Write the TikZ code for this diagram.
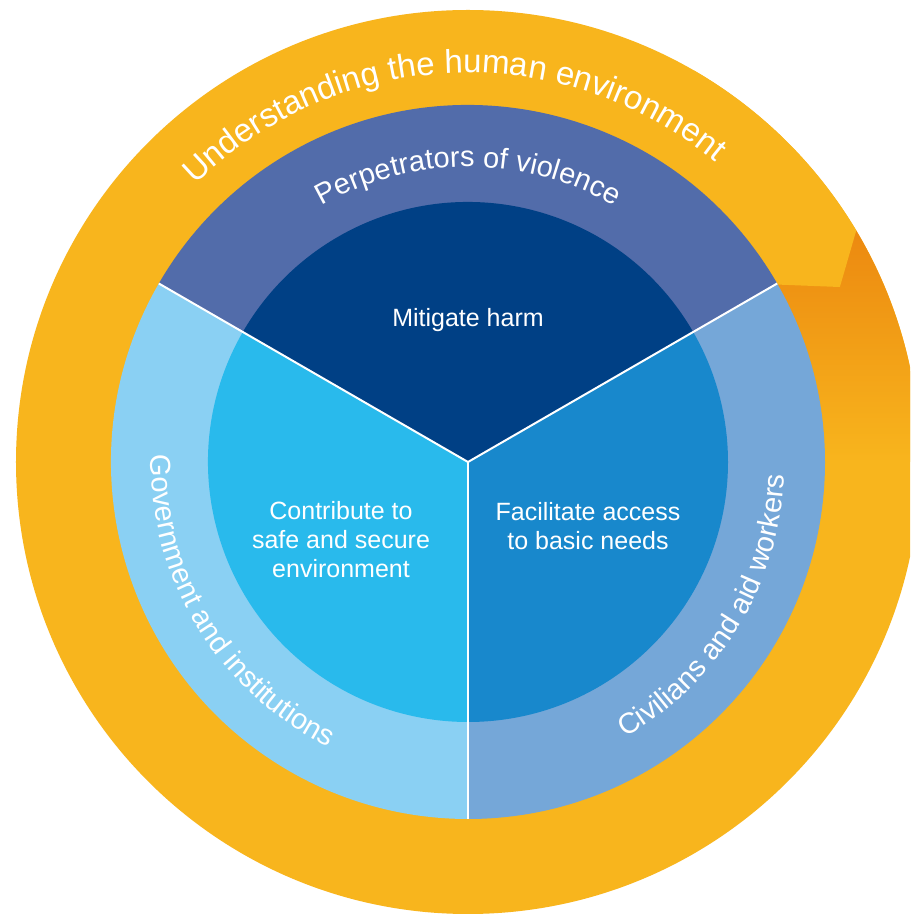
\documentclass[tikz,border=0pt]{standalone}
\usepackage{fontspec}
\setmainfont{Liberation Sans}
\usetikzlibrary{decorations.text}

\definecolor{ringyellow}{HTML}{F8B51D}
\definecolor{ringorange}{HTML}{EC8910}
\definecolor{topouter}{HTML}{526CAA}
\definecolor{topinner}{HTML}{004085}
\definecolor{leftouter}{HTML}{8AD0F3}
\definecolor{leftinner}{HTML}{29BAEC}
\definecolor{rightouter}{HTML}{75A7D8}
\definecolor{rightinner}{HTML}{1888CC}

\newcommand{\outerfont}{\fontsize{16.5}{19}\selectfont}
\newcommand{\ringfont}{\fontsize{14.5}{17}\selectfont}

\tikzset{
  spoke/.style={white, line width=1pt},
  lbl/.style={text=white, align=center, inner sep=0pt,
    font=\fontsize{12.5}{14.5}\selectfont},
  ringtext/.style={decorate, decoration={text along path,
    text color=white, text align=center, text={#1}}}
}

\begin{document}
\begin{tikzpicture}[x=0.5pt, y=0.5pt]
    \def\rOut{452}
    \def\rMid{357}
    \def\rIn{260}

    \useasboundingbox (-468,-452) rectangle (442,462);
    \clip (-468,-452) rectangle (442,462);
    \fill[white] (-468,-452) rectangle (442,462);
    \coordinate (c) at (0,0);

    % outer ring, its tip folding over the start
    \fill[ringyellow] (c) circle[radius=\rOut];
    \shade[top color=ringorange, bottom color=ringyellow] (c) -- (0:\rOut) arc[start angle=0, end angle=30.8, radius=\rOut] -- cycle;
    \fill[ringyellow] (30.8:\rOut) -- (25.2:411) -- (29.8:\rMid) arc[start angle=29.8, end angle=60, radius=\rMid]
        -- (60:\rOut) arc[start angle=60, end angle=30.8, radius=\rOut] -- cycle;

    % middle ring
    \fill[topouter] (c) -- (30:\rMid) arc[start angle=30, end angle=150, radius=\rMid] -- cycle;
    \fill[leftouter] (c) -- (150:\rMid) arc[start angle=150, end angle=270, radius=\rMid] -- cycle;
    \fill[rightouter] (c) -- (270:\rMid) arc[start angle=270, end angle=390, radius=\rMid] -- cycle;

    % inner disc
    \fill[topinner] (c) -- (30:\rIn) arc[start angle=30, end angle=150, radius=\rIn] -- cycle;
    \fill[leftinner] (c) -- (150:\rIn) arc[start angle=150, end angle=270, radius=\rIn] -- cycle;
    \fill[rightinner] (c) -- (270:\rIn) arc[start angle=270, end angle=390, radius=\rIn] -- cycle;

    \coordinate (s1) at (30:\rMid);
    \coordinate (s2) at (150:\rMid);
    \coordinate (s3) at (270:\rMid);
    \foreach \s in {s1,s2,s3}
        \draw[spoke] (c) -- (\s);

    % texts on the rings
    \path[ringtext={|\outerfont|Understanding the human environment}] (165:389) arc[start angle=165, end angle=20, radius=389];
    \path[ringtext={|\ringfont|Perpetrators of violence}] (150:295) arc[start angle=150, end angle=30, radius=295];
    \path[ringtext={|\ringfont|Government and institutions}] (160:317) arc[start angle=160, end angle=262.6, radius=317];
    \path[ringtext={|\ringfont|Civilians and aid workers}] (-82.6:317) arc[start angle=-82.6, end angle=20, radius=317];

    \node[lbl, anchor=base] (mitigate) at (0,135) {Mitigate harm};
    \node[lbl] (contribute) at (-127,-78) {Contribute to\\safe and secure\\environment};
    \node[lbl] (facilitate) at (120,-64) {Facilitate access\\to basic needs};
\end{tikzpicture}
\end{document}
